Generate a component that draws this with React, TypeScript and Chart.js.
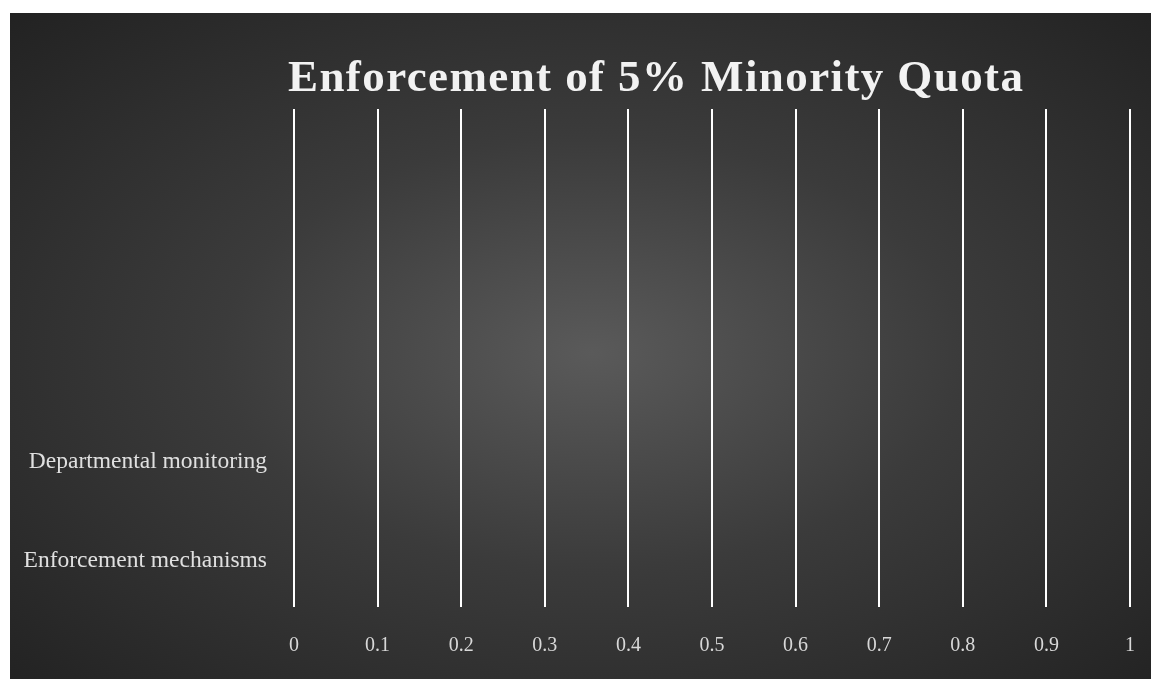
import React, { useEffect, useRef } from "react";
import { Chart, registerables } from "chart.js";

Chart.register(...registerables);

const TITLE = "Enforcement of 5% Minority Quota";
const categories = ["", "", "", "Departmental monitoring", "Enforcement mechanisms"];
const values = [0, 0, 0, 0, 0];
const xTicks = [0, 0.1, 0.2, 0.3, 0.4, 0.5, 0.6, 0.7, 0.8, 0.9, 1];

const titlePlugin = {
  id: "spacedTitle",
  afterDraw(chart: any) {
    const ctx = chart.ctx;
    ctx.save();
    ctx.font = "bold 45px 'Liberation Serif', 'Times New Roman', serif";
    (ctx as any).letterSpacing = "1.4px";
    ctx.fillStyle = "#f2f2f2";
    ctx.textAlign = "left";
    ctx.textBaseline = "alphabetic";
    ctx.fillText(TITLE, chart.chartArea.left - 6, 78);
    ctx.restore();
  },
};

export default function App() {
  const ref = useRef<HTMLCanvasElement | null>(null);
  useEffect(() => {
    document.body.style.margin = "0";
    const chart = new Chart(ref.current as HTMLCanvasElement, {
      type: "bar",
      data: {
        labels: categories,
        datasets: [
          {
            label: "Value",
            data: values,
            backgroundColor: "#cccccc",
          },
        ],
      },
      options: {
        indexAxis: "y",
        animation: false,
        responsive: true,
        maintainAspectRatio: false,
        layout: { padding: { top: 96, right: 21, left: 0, bottom: 0 } },
        plugins: {
          legend: { display: false },
          title: { display: false },
          tooltip: { enabled: false },
        },
        scales: {
          x: {
            type: "linear",
            min: 0,
            max: 1,
            afterBuildTicks: (scale: any) => {
              scale.ticks = xTicks.map((v) => ({ value: v }));
            },
            afterFit: (scale: any) => {
              scale.height = 72;
            },
            grid: {
              color: "#ffffff",
              lineWidth: 2,
              drawTicks: true,
              tickLength: 24,
              tickColor: "rgba(0,0,0,0)",
            },
            border: { display: false },
            ticks: {
              color: "#d8d8d8",
              padding: 3,
              font: { family: "'Liberation Serif', 'Times New Roman', serif", size: 20 },
              callback: (v: any) => String(v),
            },
          },
          y: {
            afterFit: (scale: any) => {
              scale.width = 284;
            },
            grid: { display: false, drawTicks: false },
            border: { display: false },
            ticks: {
              color: "#e0e0e0",
              padding: 27,
              labelOffset: 4,
              font: { family: "'Liberation Serif', 'Times New Roman', serif", size: 23.5 },
            },
          },
        },
      },
      plugins: [titlePlugin],
    });
    return () => chart.destroy();
  }, []);

  return (
    <div
      style={{
        position: "fixed",
        left: 10,
        top: 13,
        width: 1141,
        height: 666,
        background: "radial-gradient(ellipse at 51% 51%, #5a5a5a 0%, #3b3b3b 45%, #222222 100%)",
      }}
    >
      <canvas ref={ref} />
    </div>
  );
}
